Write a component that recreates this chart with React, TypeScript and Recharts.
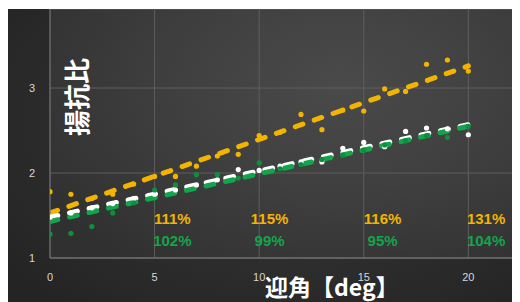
import React from 'react';
import { ComposedChart, Scatter, Line, XAxis, YAxis, CartesianGrid } from 'recharts';

const angles = [0, 1, 2, 3, 4, 5, 6, 7, 8, 9, 10, 11, 12, 13, 14, 15, 16, 17, 18, 19, 20];
const yellowRatio = [1.78, 1.75, 1.7, 1.75, 1.87, 1.96, 1.96, 2.08, 2.2, 2.22, 2.44, 2.48, 2.69, 2.51, 2.74, 2.73, 2.99, 2.96, 3.28, 3.33, 3.2];
const whiteRatio = [1.48, 1.53, 1.59, 1.64, 1.7, 1.75, 1.8, 1.86, 1.92, 2.04, 2.03, 2.08, 2.13, 2.13, 2.29, 2.36, 2.31, 2.49, 2.53, 2.52, 2.45];
const greenRatio = [1.28, 1.29, 1.37, 1.53, 1.65, 1.8, 1.86, 1.98, 1.98, 1.94, 2.12, 2.05, 2.1, 2.16, 2.21, 2.27, 2.33, 2.38, 2.44, 2.42, 2.55];

const trendX = [0, 20];
const yellowTrend = [1.53, 3.26];
const whiteTrend = [1.48, 2.57];
const greenTrend = [1.43, 2.55];

const pctX = [5.85, 10.5, 15.9, 20.85];
const yellowPct = ['111%', '115%', '116%', '131%'];
const greenPct = ['102%', '99%', '95%', '104%'];
const yellowPctLevel = 1.47;
const greenPctLevel = 1.205;

const xTicks = [0, 5, 10, 15, 20];
const yTicks = [1, 2, 3];

const YELLOW = '#f3b400';
const WHITE = '#ffffff';
const GREEN_LINE = '#12a54c';
const GREEN_DOT = '#0d8f3e';

const toPoints = (vals: number[]) => angles.map((x, i) => ({ x, y: vals[i] }));
const toTrend = (vals: number[]) => trendX.map((x, i) => ({ x, y: vals[i] }));
const toLabels = (labels: string[], level: number) => pctX.map((x, i) => ({ x, y: level, label: labels[i] }));

const dot = (color: string) => (p: any) => <circle cx={p.cx} cy={p.cy} r={2.6} fill={color} />;
const pctText = (color: string) => (p: any) => (
  <text
    x={p.cx}
    y={p.cy}
    textAnchor="middle"
    dominantBaseline="central"
    fill={color}
    fontSize={15}
    fontWeight={700}
    fontFamily="'Liberation Sans Narrow', 'Liberation Sans', Arial, sans-serif"
  >
    {p.payload.label}
  </text>
);

const tickStyle = { fill: '#d6d6d6', fontSize: 11, fontFamily: "'Liberation Sans', Arial, sans-serif" };

export default function App() {
  return (
    <div
      style={{
        position: 'relative',
        width: 512,
        height: 293,
        marginTop: 1,
        overflow: 'hidden',
        background: 'radial-gradient(ellipse 70% 80% at 55% 40%, #3a3a3a 0%, #2e2e2e 55%, #242424 100%)',
      }}
    >
      <div
        style={{
          position: 'absolute',
          left: 42,
          top: 0,
          width: 470,
          height: 249,
          background: 'radial-gradient(ellipse 75% 90% at 62% 30%, #4a4a4a 0%, #404040 45%, #303030 100%)',
        }}
      />
      <div style={{ position: 'absolute', left: 0, top: 0 }}>
        <ComposedChart width={512} height={293} margin={{ top: 0, right: 0, left: 0, bottom: 14 }}>
          <CartesianGrid stroke="#5e5e5e" strokeWidth={1} />
          <XAxis
            type="number"
            dataKey="x"
            domain={[0, 22.47]}
            ticks={xTicks}
            allowDataOverflow
            height={30}
            tickLine={false}
            tickSize={6}
            tickMargin={9}
            axisLine={{ stroke: '#7c7c7c' }}
            tick={tickStyle}
          />
          <YAxis
            type="number"
            dataKey="y"
            domain={[1, 3.93]}
            ticks={yTicks}
            allowDataOverflow
            width={42}
            tickLine={false}
            tickSize={6}
            tickMargin={9}
            axisLine={{ stroke: '#6e6e6e' }}
            tick={tickStyle}
          />
          <Scatter data={toPoints(yellowRatio)} dataKey="y" shape={dot(YELLOW)} isAnimationActive={false} />
          <Scatter data={toPoints(whiteRatio)} dataKey="y" shape={dot(WHITE)} isAnimationActive={false} />
          <Scatter data={toPoints(greenRatio)} dataKey="y" shape={dot(GREEN_DOT)} isAnimationActive={false} />
          <Line
            data={toTrend(yellowTrend)}
            dataKey="y"
            type="linear"
            stroke={YELLOW}
            strokeWidth={5}
            strokeDasharray="8 12"
            strokeLinecap="round"
            dot={false}
            activeDot={false}
            isAnimationActive={false}
          />
          <Line
            data={toTrend(whiteTrend)}
            dataKey="y"
            type="linear"
            stroke={WHITE}
            strokeWidth={5}
            strokeDasharray="8 12"
            strokeLinecap="round"
            dot={false}
            activeDot={false}
            isAnimationActive={false}
          />
          <Line
            data={toTrend(greenTrend)}
            dataKey="y"
            type="linear"
            stroke={GREEN_LINE}
            strokeWidth={5}
            strokeDasharray="8 12"
            strokeLinecap="round"
            dot={false}
            activeDot={false}
            isAnimationActive={false}
          />
          <Scatter data={toLabels(yellowPct, yellowPctLevel)} dataKey="y" shape={pctText(YELLOW)} isAnimationActive={false} />
          <Scatter data={toLabels(greenPct, greenPctLevel)} dataKey="y" shape={pctText(GREEN_LINE)} isAnimationActive={false} />
        </ComposedChart>
      </div>
      <div
        style={{
          position: 'absolute',
          left: 68,
          top: 88,
          transform: 'translate(-50%, -50%) rotate(-90deg)',
          whiteSpace: 'nowrap',
          color: '#ffffff',
          fontSize: 26,
          lineHeight: '26px',
          fontWeight: 700,
          fontFamily: "'Noto Sans CJK JP', sans-serif",
        }}
      >
        揚抗比
      </div>
      <div
        style={{
          position: 'absolute',
          left: 257,
          top: 266,
          whiteSpace: 'nowrap',
          color: '#ffffff',
          fontSize: 23,
          lineHeight: '23px',
          fontWeight: 700,
          fontFamily: "'Noto Sans CJK JP', sans-serif",
        }}
      >
        迎角【deg】
      </div>
    </div>
  );
}
